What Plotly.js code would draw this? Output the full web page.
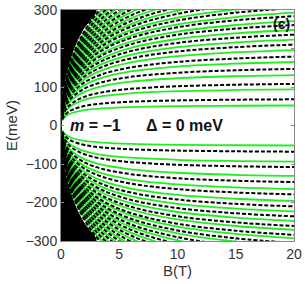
<!DOCTYPE html>
<html>
<head>
<meta charset="utf-8">
<script src="https://cdn.plot.ly/plotly-3.0.1.min.js"></script>
<style>html,body{margin:0;padding:0;background:#fff;}#chart{width:305px;height:284px;}</style>
</head>
<body>
<div id="chart"></div>
<script>
// Magnetic field sample points (T)
const fieldB = [0.1, 0.3, 0.6, 1, 2, 3.5, 6, 10, 15, 20];

// Green (solid) levels |E| in meV at the fieldB points
const greenLevels = [
  [12.9, 21.1, 27.8, 33.1, 40.0, 44.5, 47.9, 50.1, 51.3, 52],
  [19.5, 32.6, 43.8, 53.2, 66.4, 76.1, 83.7, 89.2, 92.3, 94],
  [24.4, 41.1, 55.8, 68.5, 87.2, 101.7, 113.7, 122.7, 128.1, 131],
  [28.4, 48.1, 65.7, 81.3, 104.8, 123.9, 140.3, 152.9, 160.7, 165],
  [31.8, 54.0, 74.1, 92.2, 120.0, 143.2, 163.8, 180.0, 190.2, 196],
  [34.7, 58.9, 81.1, 101.2, 132.7, 159.4, 183.7, 203.3, 215.8, 223],
  [37.2, 63.3, 87.3, 109.3, 144.0, 174.1, 201.8, 224.7, 239.4, 248],
  [39.4, 67.2, 92.9, 116.5, 154.2, 187.2, 218.2, 244.1, 261.1, 271],
  [41.5, 70.9, 98.1, 123.2, 163.7, 199.6, 233.7, 262.6, 281.7, 293],
  [43.5, 74.3, 103.0, 129.5, 172.6, 211.2, 248.3, 280.1, 301.4, 314],
  [45.5, 77.8, 107.9, 136.0, 181.7, 223.2, 263.4, 298.3, 321.9, 336],
  [47.5, 81.3, 112.9, 142.3, 190.7, 235.0, 278.4, 316.4, 342.4, 358],
  [49.6, 84.8, 117.9, 148.9, 200.0, 247.1, 293.8, 335.2, 363.7, 381],
  [51.7, 88.5, 123.1, 155.6, 209.6, 259.7, 309.8, 354.7, 385.9, 405],
  [53.8, 92.2, 128.4, 162.5, 219.4, 272.6, 326.3, 374.9, 409.0, 430],
  [56.0, 96.1, 133.9, 169.6, 229.5, 285.9, 343.3, 395.8, 433.0, 456],
  [58.3, 100.0, 139.5, 176.9, 239.8, 299.5, 360.7, 417.3, 457.8, 483]
];

// Black (dashed) levels |E| in meV at the fieldB points
const dashedLevels = [
  [15.6, 25.8, 34.3, 41.2, 50.5, 56.9, 61.8, 65.1, 67.0, 68],
  [21.4, 35.9, 48.5, 59.2, 74.5, 86.0, 95.2, 101.9, 105.9, 108],
  [26.3, 44.4, 60.5, 74.6, 95.6, 112.3, 126.4, 137.0, 143.4, 147],
  [30.0, 50.8, 69.6, 86.3, 111.8, 132.7, 151.0, 165.2, 174.0, 179],
  [33.3, 56.6, 77.8, 96.9, 126.6, 151.7, 174.2, 192.1, 203.5, 210],
  [36.0, 61.2, 84.4, 105.4, 138.6, 167.1, 193.2, 214.5, 228.1, 236],
  [38.5, 65.5, 90.5, 113.4, 149.8, 181.6, 211.1, 235.7, 251.7, 261],
  [40.7, 69.4, 96.0, 120.5, 159.8, 194.6, 227.4, 255.1, 273.3, 284],
  [42.7, 72.8, 100.9, 126.8, 168.8, 206.2, 242.1, 272.6, 293.0, 305],
  [44.6, 76.2, 105.7, 133.1, 177.6, 217.7, 256.6, 290.0, 312.6, 326],
  [46.5, 79.5, 110.4, 139.2, 186.2, 229.1, 270.9, 307.3, 332.1, 347],
  [48.5, 83.0, 115.3, 145.5, 195.2, 240.8, 285.8, 325.4, 352.6, 369],
  [50.5, 86.5, 120.3, 152.0, 204.4, 252.9, 301.2, 344.1, 373.9, 392],
  [52.6, 90.1, 125.5, 158.7, 213.9, 265.4, 317.1, 363.6, 396.1, 416],
  [54.8, 93.9, 130.8, 165.5, 223.7, 278.2, 333.5, 383.7, 419.2, 441],
  [57.0, 97.7, 136.2, 172.6, 233.7, 291.4, 350.4, 404.6, 443.1, 467],
  [59.3, 101.8, 142.0, 180.1, 244.3, 305.5, 368.5, 426.8, 468.8, 495]
];

// Dense (unresolved) region near B = 0: boundary
const denseB = [0, 3.0, 1.9, 1.1, 0.6, 0.3, 0.15, 0.08, 0.02, 0.08, 0.15, 0.3, 0.6, 1.1, 1.9, 3.0, 0];
const denseE = [-300, -300, -250, -200, -150, -100, -60, -30, 0, 30, 60, 100, 150, 200, 250, 300, 300];

const xTicks = [0, 5, 10, 15, 20];
const yTicks = [-300, -200, -100, 0, 100, 200, 300];
const yTickText = ['\u2212300', '\u2212200', '\u2212100', '0', '100', '200', '300'];

const traces = [];
traces.push({
  x: denseB, y: denseE, mode: 'lines', fill: 'toself',
  fillcolor: '#000', line: {color: '#000', width: 1, shape: 'spline'}, hoverinfo: 'skip', showlegend: false
});
const signs = [1, -1];
greenLevels.forEach(lv => signs.forEach(s => traces.push({
  x: fieldB, y: lv.map(v => s * v), mode: 'lines',
  line: {color: '#22ee22', width: 1.8, shape: 'spline'}, hoverinfo: 'skip', showlegend: false
})));
dashedLevels.forEach(lv => signs.forEach(s => traces.push({
  x: fieldB, y: lv.map(v => s * v), mode: 'lines',
  line: {color: '#000', width: 2, dash: '4px,2px', shape: 'spline'}, hoverinfo: 'skip', showlegend: false
})));

const tickFont = {family: 'Liberation Sans, Arial, sans-serif', size: 14, color: '#333'};
const layout = {
  width: 305, height: 284,
  margin: {l: 61, r: 11, t: 10, b: 43},
  paper_bgcolor: '#fff', plot_bgcolor: '#fff',
  showlegend: false,
  xaxis: {
    range: [0, 20], tickvals: xTicks, ticktext: xTicks.map(String),
    showgrid: false, zeroline: false, showline: true, mirror: 'ticks',
    linecolor: '#888', linewidth: 1, ticks: 'inside', ticklen: 3, tickcolor: '#888',
    tickfont: tickFont,
    title: {text: 'B(T)', font: {family: 'Liberation Sans, Arial, sans-serif', size: 15, color: '#333'}, standoff: 4}
  },
  yaxis: {
    range: [-300, 300], tickvals: yTicks, ticktext: yTickText,
    showgrid: false, zeroline: false, showline: true, mirror: 'ticks',
    linecolor: '#888', linewidth: 1, ticks: 'inside', ticklen: 3, tickcolor: '#888',
    tickfont: tickFont,
    title: {text: 'E(meV)', font: {family: 'Liberation Sans, Arial, sans-serif', size: 15, color: '#333'}, standoff: 4}
  },
  annotations: [
    {x: 3.0, y: 0, xref: 'x', yref: 'y', text: '<b><i>m</i> = \u22121</b>', showarrow: false,
     font: {family: 'Liberation Sans, Arial, sans-serif', size: 16, color: '#111'}},
    {x: 10.6, y: 0, xref: 'x', yref: 'y', text: '<b>\u0394 = 0 meV</b>', showarrow: false,
     font: {family: 'Liberation Sans, Arial, sans-serif', size: 16, color: '#111'}},
    {x: 1, y: 1, xref: 'paper', yref: 'paper', xanchor: 'right', yanchor: 'top', xshift: -2, yshift: -4,
     text: '<b>(c)</b>', showarrow: false,
     font: {family: 'Liberation Sans, Arial, sans-serif', size: 14, color: '#111'}}
  ]
};
Plotly.newPlot('chart', traces, layout, {staticPlot: true, displayModeBar: false});
</script>
</body>
</html>
